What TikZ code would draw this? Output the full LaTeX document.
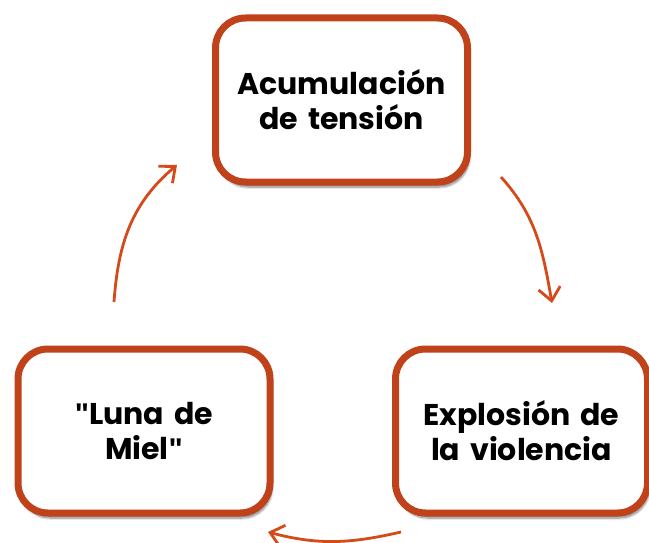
\documentclass[tikz,border=0pt]{standalone}
\usepackage{fontspec}
\setmainfont{Poppins}[Ligatures=ResetAll]
\newfontfamily\comillas{Liberation Sans}[Ligatures=ResetAll]
\newcommand{\cq}{{\comillas\symbol{"22}}}
\usepackage{tikz}
\usetikzlibrary{calc,positioning,arrows.meta,shadows.blur}
\definecolor{borde}{RGB}{192,66,26}
\definecolor{flecha}{RGB}{212,74,26}
\tikzset{
	%Define standard arrow tip
	>={Straight Barb[length=13pt,width=22pt]},
	%Define style for boxes
	caja/.style={
		rectangle,
		rounded corners=30pt,
		draw=borde, line width=7pt,
		fill=white,
		blur shadow={shadow xshift=2pt, shadow yshift=-5pt, shadow blur steps=8, shadow opacity=50},
		minimum width=252pt,
		minimum height=164pt,
		text width=240pt,
		align=center,
		font=\fontsize{30}{35}\selectfont\bfseries},
	% Define arrow style
	flech/.style={
		->,
		draw=flecha,
		line width=2.8pt}
}
\begin{document}
\begin{tikzpicture}
\useasboundingbox (0pt,0pt) rectangle (649pt,-543pt);
% node Acumulacion
\node[caja] (acum) at (341.5pt,-100pt) {Acumulación\\de tensión};
% node Luna de Miel
\node[caja, below left=160pt and -61.5pt of acum] (luna) {\cq Luna de\\Miel\cq};
% node Explosion
\node[caja, below right=160pt and -79pt of acum] (explo) {Explosión de\\la violencia};
% arrow ends
\coordinate (a1) at ($(acum.south east)+(30pt,8.5pt)$);
\coordinate (a2) at ($(explo.north)+(30.5pt,42.5pt)$);
\coordinate (b1) at ($(explo.south west)+(9pt,-15.5pt)$);
\coordinate (b2) at ($(luna.south east)+(-5.5pt,-15.5pt)$);
\coordinate (c1) at ($(luna.north)+(-30pt,43.5pt)$);
\coordinate (c2) at ($(acum.west)+(-35pt,-65pt)$);
\draw[flech] (a1) to[out=-48,in=100] (a2);
\draw[flech] (b1) to[out=193,in=-15] (b2);
\draw[flech] (c1) to[out=86,in=220] (c2);
\end{tikzpicture}
\end{document}
